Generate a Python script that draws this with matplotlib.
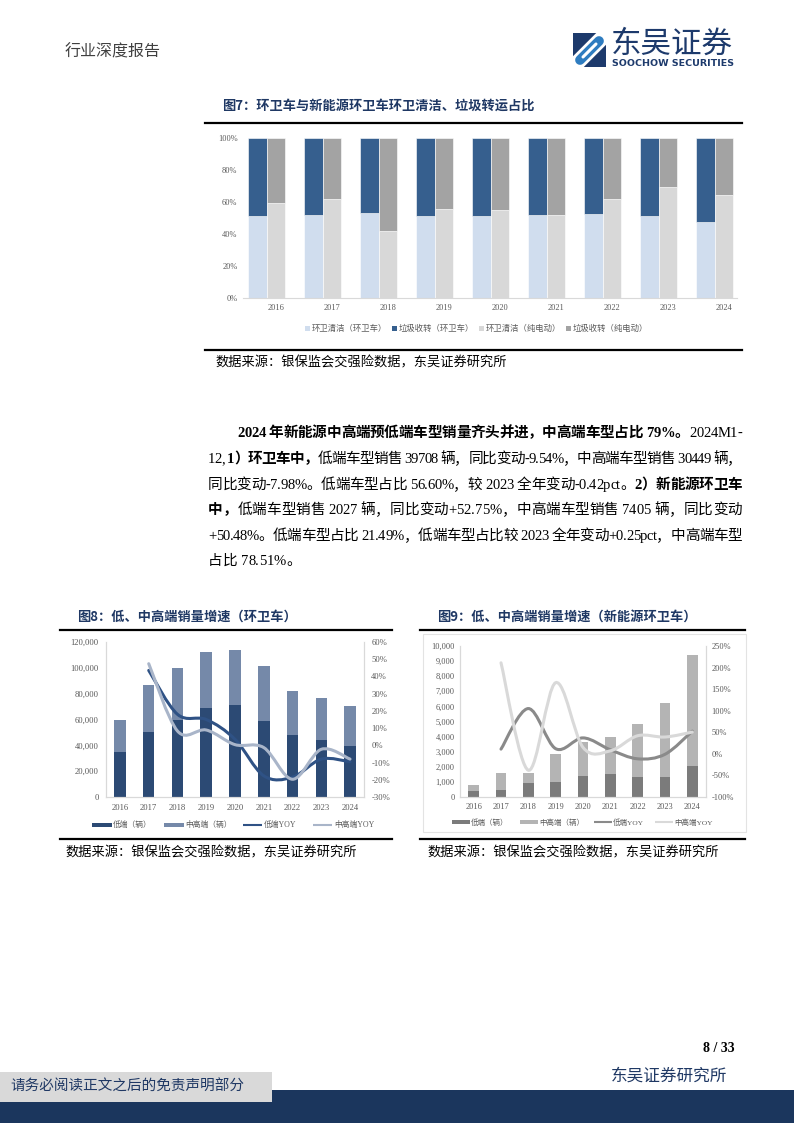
import numpy as np
import matplotlib
matplotlib.use('Agg')
import matplotlib.pyplot as plt
from matplotlib.patches import Rectangle, PathPatch, Polygon
from matplotlib.path import Path
from matplotlib.lines import Line2D

W, H = 794, 1123
CJK = ['Noto Sans CJK SC', 'DejaVu Sans']
MIX = ['Liberation Serif', 'Noto Sans CJK SC', 'DejaVu Sans']
NAVY = '#1f3864'
GREYTXT = '#595959'

years = ['2016', '2017', '2018', '2019', '2020', '2021', '2022', '2023', '2024']

# fig7 shares (%)
hw_clean = [51.2, 51.7, 52.9, 51.2, 51.2, 52.1, 52.5, 51.2, 47.5]
hw_trans = [48.8, 48.3, 47.1, 48.8, 48.8, 47.9, 47.5, 48.8, 52.5]
ev_clean = [59.6, 61.7, 41.7, 55.4, 54.8, 51.7, 61.7, 69.2, 64.2]
ev_trans = [40.4, 38.3, 58.3, 44.6, 45.2, 48.3, 38.3, 30.8, 35.8]

# fig8 sanitation vehicles (units), yoy from 2017 (%)
hw_low = [35000, 50000, 60000, 69000, 71000, 58500, 48000, 43900, 39708]
hw_high = [25000, 36500, 40000, 43500, 43000, 42700, 34300, 33100, 30449]
hw_low_yoy = [43.5, 18.0, 15.0, 3.5, -17.7, -18.5, -8.0, -9.54]
hw_high_yoy = [47.4, 8.3, 8.9, 0.4, -1.3, -19.7, -2.3, -7.98]

# fig9 new energy sanitation vehicles
ev_low = [396, 440, 900, 1010, 1385, 1515, 1340, 1327, 2027]
ev_high = [374, 1142, 704, 1869, 2263, 2463, 3517, 4921, 7405]
ev_low_yoy = [11, 105, 12, 37, 9.4, -11.5, -1, 52.75]
ev_high_yoy = [211, -38, 165, 15, 7, 42, 39, 50.48]

fig = plt.figure(figsize=(W / 100, H / 100), dpi=100)


def ftext(x, y, s, **kw):
    return fig.text(x / W, 1 - y / H, s, **kw)


def hline(x0, x1, y, lw=1.6, color='black'):
    fig.add_artist(Line2D([x0 / W, x1 / W], [1 - y / H, 1 - y / H], color=color, lw=lw,
                          transform=fig.transFigure))


def fline(xs, ys, color, lw, cap='round'):
    fig.add_artist(Line2D([v / W for v in xs], [1 - v / H for v in ys], color=color, lw=lw,
                          solid_capstyle=cap, transform=fig.transFigure))


def frect(x0, y0, x1, y1, color, **kw):
    fig.add_artist(Rectangle((x0 / W, 1 - y1 / H), (x1 - x0) / W, (y1 - y0) / H,
                             facecolor=color, transform=fig.transFigure, **kw))


def add_ax(x0, y0, x1, y1):
    return fig.add_axes([x0 / W, 1 - y1 / H, (x1 - x0) / W, (y1 - y0) / H])


def smooth_path(xs, ys):
    pts = np.column_stack([xs, ys]).astype(float)
    n = len(pts)
    verts = [pts[0]]
    codes = [Path.MOVETO]
    for i in range(n - 1):
        p0 = pts[i - 1] if i > 0 else pts[i]
        p1 = pts[i]
        p2 = pts[i + 1]
        p3 = pts[i + 2] if i + 2 < n else pts[i + 1]
        verts += [p1 + (p2 - p0) / 6, p2 - (p3 - p1) / 6, p2]
        codes += [Path.CURVE4] * 3
    return Path(verts, codes)


# ---------- header ----------
ftext(65, 52, '行业深度报告', fontsize=11.5, family=CJK, color='#404040', va='center')
# logo
fig.add_artist(Polygon([(573 / W, 1 - 67 / H), (573 / W, 1 - 33 / H), (596 / W, 1 - 33 / H),
                        (606 / W, 1 - 43 / H), (606 / W, 1 - 67 / H)], closed=True,
                       facecolor='#1d3a6c', transform=fig.transFigure))
fline([578, 601], [62, 39], 'white', 11)
fline([580, 599], [60, 41], '#2e7cc0', 7)
fline([583, 596], [57, 44], 'white', 2.2)
ftext(611, 44, '东吴证券', fontsize=22, family=CJK, color='#1d3a6c', va='center')
ftext(612, 64, 'SOOCHOW SECURITIES', fontsize=6.8, family=['DejaVu Sans'], weight='bold',
      color='#1d3a6c', va='center')

# ---------- figure 7 ----------
ftext(222, 106, '图7：环卫车与新能源环卫车环卫清洁、垃圾转运占比', fontsize=9.5, family=CJK,
      weight='bold', color=NAVY, va='center')
hline(205, 742, 123)

ax7 = add_ax(243, 138, 737, 298)
x = np.arange(len(years))
bw = 0.33
c_hw1, c_hw2, c_ev1, c_ev2 = '#d0ddee', '#365f8e', '#d8d8d8', '#a3a3a3'
ax7.bar(x - bw, hw_clean, bw, color=c_hw1, edgecolor='white', lw=0.4)
ax7.bar(x - bw, hw_trans, bw, bottom=hw_clean, color=c_hw2, edgecolor='white', lw=0.4)
ax7.bar(x, ev_clean, bw, color=c_ev1, edgecolor='white', lw=0.4)
ax7.bar(x, ev_trans, bw, bottom=ev_clean, color=c_ev2, edgecolor='white', lw=0.4)
ax7.set_xlim(-0.59, 8.23)
ax7.set_ylim(0, 100)
ax7.set_yticks(range(0, 101, 20))
ax7.set_yticklabels([f'{v}%' for v in range(0, 101, 20)])
ax7.set_xticks(x)
ax7.set_xticklabels(years)
for s in ['top', 'right', 'left']:
    ax7.spines[s].set_visible(False)
ax7.spines['bottom'].set_color('#d9d9d9')
ax7.tick_params(length=0, labelsize=6, labelcolor=GREYTXT, pad=4)
for lab in ax7.get_xticklabels() + ax7.get_yticklabels():
    lab.set_family(MIX)

leg7 = [('环卫清洁（环卫车）', c_hw1, 305), ('垃圾收转（环卫车）', c_hw2, 392),
        ('环卫清洁（纯电动）', c_ev1, 479), ('垃圾收转（纯电动）', c_ev2, 566)]
for lab, col, lx in leg7:
    frect(lx, 325.5, lx + 5, 330.5, col)
    ftext(lx + 7, 328, lab, fontsize=6, family=CJK, color=GREYTXT, va='center')

hline(205, 742, 350)
ftext(215, 363, '数据来源：银保监会交强险数据，东吴证券研究所', fontsize=9.5, family=CJK,
      color='black', va='center')

# ---------- paragraph ----------
para = [
    (237, 437, [('2024 年新能源中高端预低端车型销量齐头并进，中高端车型占比 79%。', True),
                ('2024M1-', False)], True),
    (208, 463, [('12, ', False), ('1）环卫车中，', True),
                ('低端车型销售 39708 辆，同比变动-9.54%，中高端车型销售 30449 辆，', False)], True),
    (208, 489, [('同比变动-7.98%。低端车型占比 56.60%，较 2023 全年变动-0.42pct。', False),
                ('2）新能源环卫车', True)], True),
    (208, 514, [('中，', True),
                ('低端车型销售 2027 辆，同比变动+52.75%，中高端车型销售 7405 辆，同比变动', False)], True),
    (208, 540, [('+50.48%。低端车型占比 21.49%，低端车型占比较 2023 全年变动+0.25pct，中高端车型', False)], True),
    (208, 565, [('占比 78.51%。', False)], False),
]
PSIZE = 10.5
renderer = fig.canvas.get_renderer()
wcache = {}


def cw(c, bold):
    key = (c, bold)
    if key not in wcache:
        wt = 'bold' if bold else 'normal'
        t1 = fig.text(0, 0, '|' + c + '|', fontsize=PSIZE, family=MIX, weight=wt)
        t2 = fig.text(0, 0, '||', fontsize=PSIZE, family=MIX, weight=wt)
        wcache[key] = t1.get_window_extent(renderer).width - t2.get_window_extent(renderer).width
        t1.remove()
        t2.remove()
    return wcache[key]


for lx, by, segs, justify in para:
    chars = [(c, b) for s, b in segs for c in s]
    widths = [cw(c, b) for c, b in chars]
    extra = 0
    if justify:
        extra = (742 - lx - sum(widths)) / (len(chars) - 1)
    xpos = lx
    for (c, b), w in zip(chars, widths):
        if c != ' ':
            ftext(xpos, by, c, fontsize=PSIZE, family=MIX, weight='bold' if b else 'normal',
                  color='black', va='baseline')
        xpos += w + extra

# ---------- figure 8 ----------
ftext(77, 617, '图8：低、中高端销量增速（环卫车）', fontsize=9.5, family=CJK, weight='bold',
      color=NAVY, va='center')
hline(60, 392, 630)

ax8 = add_ax(105.6, 642, 364.4, 797)
c8_low, c8_high, c8_ly, c8_hy = '#2c4a74', '#7589a9', '#2f5285', '#a9b5c9'
bw8 = 0.4
ax8.bar(x, hw_low, bw8, color=c8_low)
ax8.bar(x, hw_high, bw8, bottom=hw_low, color=c8_high)
ax8.set_xlim(-0.5, 8.5)
ax8.set_ylim(0, 120000)
ax8.set_yticks(range(0, 120001, 20000))
ax8.set_yticklabels([f'{v:,}' for v in range(0, 120001, 20000)])
ax8.set_xticks(x)
ax8.set_xticklabels(years)
ax8b = ax8.twinx()
ax8b.set_ylim(-30, 60)
ax8b.set_yticks(range(-30, 61, 10))
ax8b.set_yticklabels([f'{v}%' for v in range(-30, 61, 10)])
ax8b.add_patch(PathPatch(smooth_path(x[1:], hw_low_yoy), fill=False, edgecolor=c8_ly, lw=2.2,
                         capstyle='round'))
ax8b.add_patch(PathPatch(smooth_path(x[1:], hw_high_yoy), fill=False, edgecolor=c8_hy, lw=2.2,
                         capstyle='round'))
for a in (ax8, ax8b):
    a.spines['top'].set_visible(False)
    for s in ['left', 'right', 'bottom']:
        a.spines[s].set_color('#d9d9d9')
        a.spines[s].set_linewidth(0.8)
    a.tick_params(length=0, labelsize=6.2, labelcolor=GREYTXT, pad=5)
    for lab in a.get_xticklabels() + a.get_yticklabels():
        lab.set_family(MIX)

leg8 = [('低端（辆）', c8_low, 92, 'bar'), ('中高端（辆）', c8_high, 164, 'bar'),
        ('低端YOY', c8_ly, 243, 'line'), ('中高端YOY', c8_hy, 313, 'line')]
for lab, col, lx, kind in leg8:
    if kind == 'bar':
        frect(lx, 823, lx + 20, 827, col)
    else:
        fline([lx, lx + 19], [825, 825], col, 1.5, cap='butt')
    ftext(lx + 21, 825, lab, fontsize=5.6, family=MIX, color=GREYTXT, va='center')

hline(60, 392, 839)
ftext(65, 853, '数据来源：银保监会交强险数据，东吴证券研究所', fontsize=9.5, family=CJK,
      color='black', va='center')

# ---------- figure 9 ----------
ftext(437, 617, '图9：低、中高端销量增速（新能源环卫车）', fontsize=9.5, family=CJK,
      weight='bold', color=NAVY, va='center')
hline(420, 745, 630)
fig.add_artist(Rectangle((423 / W, 1 - 832 / H), (746 - 423) / W, (832 - 634) / H, fill=False,
                         edgecolor='#e3e3e3', lw=0.8, transform=fig.transFigure))

ax9 = add_ax(460, 646, 706, 797)
c9_low, c9_high, c9_ly, c9_hy = '#7b7b7b', '#b4b4b4', '#8a8a8a', '#d9d9d9'
bw9 = 0.4
ax9.bar(x, ev_low, bw9, color=c9_low)
ax9.bar(x, ev_high, bw9, bottom=ev_low, color=c9_high)
ax9.set_xlim(-0.5, 8.5)
ax9.set_ylim(0, 10000)
ax9.set_yticks(range(0, 10001, 1000))
ax9.set_yticklabels([f'{v:,}' for v in range(0, 10001, 1000)])
ax9.set_xticks(x)
ax9.set_xticklabels(years)
ax9b = ax9.twinx()
ax9b.set_ylim(-100, 250)
ax9b.set_yticks(range(-100, 251, 50))
ax9b.set_yticklabels([f'{v}%' for v in range(-100, 251, 50)])
ax9b.add_patch(PathPatch(smooth_path(x[1:], ev_low_yoy), fill=False, edgecolor=c9_ly, lw=2.2,
                         capstyle='round'))
ax9b.add_patch(PathPatch(smooth_path(x[1:], ev_high_yoy), fill=False, edgecolor=c9_hy, lw=2.2,
                         capstyle='round'))
for a in (ax9, ax9b):
    a.spines['top'].set_visible(False)
    for s in ['left', 'right', 'bottom']:
        a.spines[s].set_color('#d9d9d9')
        a.spines[s].set_linewidth(0.8)
    a.tick_params(length=0, labelsize=6, labelcolor=GREYTXT, pad=4)
    for lab in a.get_xticklabels() + a.get_yticklabels():
        lab.set_family(MIX)

leg9 = [('低端（辆）', c9_low, 452, 'bar'), ('中高端（辆）', c9_high, 520, 'bar'),
        ('低端YOY', c9_ly, 594, 'line'), ('中高端YOY', c9_hy, 655, 'line')]
for lab, col, lx, kind in leg9:
    if kind == 'bar':
        frect(lx, 820, lx + 18, 824, col)
    else:
        fline([lx, lx + 18], [822, 822], col, 1.5, cap='butt')
    ftext(lx + 19, 822, lab, fontsize=5.4, family=MIX, color=GREYTXT, va='center')

hline(420, 745, 839)
ftext(427, 853, '数据来源：银保监会交强险数据，东吴证券研究所', fontsize=9.5, family=CJK,
      color='black', va='center')

# ---------- footer ----------
ftext(735, 1049, '8 / 33', fontsize=10, family=MIX, weight='bold', color='black', ha='right',
      va='center')
ftext(727, 1076, '东吴证券研究所', fontsize=12, family=CJK, color=NAVY, ha='right', va='center')
frect(0, 1090, 794, 1123, '#1b365d')
frect(0, 1072, 272, 1102, '#d9d9d9')
ftext(10, 1087, '请务必阅读正文之后的免责声明部分', fontsize=10.5, family=CJK, color=NAVY,
      va='center')

fig.savefig('out.png', dpi=100)
